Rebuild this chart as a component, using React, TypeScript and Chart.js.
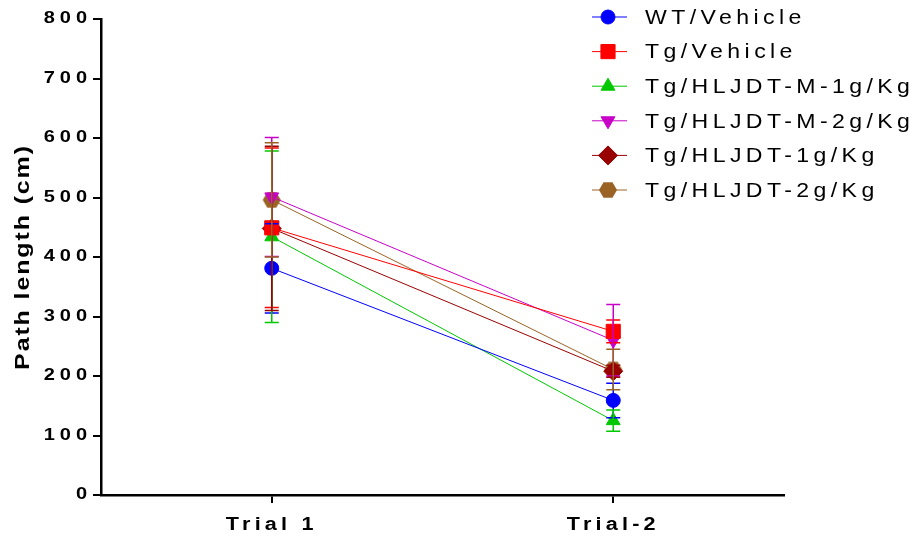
import React, { useEffect, useRef } from 'react';
import { Chart, registerables, LinearScale, CategoryScale } from 'chart.js';
import { drawPoint } from 'chart.js/helpers';

// ---------- data ----------
const CATEGORIES = ['Trial 1', 'Trial-2'];
const SERIES_LABELS = [
  'WT/Vehicle',
  'Tg/Vehicle',
  'Tg/HLJDT-M-1g/Kg',
  'Tg/HLJDT-M-2g/Kg',
  'Tg/HLJDT-1g/Kg',
  'Tg/HLJDT-2g/Kg',
];
const WT_VEHICLE = [381, 159];
const TG_VEHICLE = [449, 275];
const TG_M_1G = [434, 125];
const TG_M_2G = [501, 260];
const TG_1G = [448, 208];
const TG_2G = [496, 211];

const WT_VEHICLE_ERR = [75, 29];
const TG_VEHICLE_ERR = [134, 19];
const TG_M_1G_ERR = [144, 18];
const TG_M_2G_ERR = [100, 60];
const TG_1G_ERR = [138, 10];
const TG_2G_ERR = [96, 34];

const SERIES_VALUES = [WT_VEHICLE, TG_VEHICLE, TG_M_1G, TG_M_2G, TG_1G, TG_2G];
const SERIES_ERRORS = [WT_VEHICLE_ERR, TG_VEHICLE_ERR, TG_M_1G_ERR, TG_M_2G_ERR, TG_1G_ERR, TG_2G_ERR];

const Y_MIN = 0;
const Y_MAX = 800;
const Y_STEP = 100;
const Y_TITLE = 'Path length (cm)';

// ---------- styles ----------
const COLORS = ['#0000FF', '#FF0000', '#00C800', '#C800C8', '#990000', '#9A6324'];
const POINT_STYLES = ['circle', 'rect', 'triangle', 'triangle', 'rectRot', 'hexagon'];
const POINT_ROTATIONS = [0, 0, 0, 180, 0, 0];
const POINT_RADII = [7, 10, 8, 8, 9.5, 9];
const FONT = '"Liberation Sans", Arial, Helvetica, sans-serif';

// horizontal text stretch + letter spacing (the reference uses wide, spaced text)
const TEXT_LOOK: any = {
  y: { sx: 1.25, ls: 4, titleSx: 1.25, titleLs: 1.5 },
  x: { sx: 1.2, ls: 3.5 },
  legend: { sx: 1.1, ls: 4 },
};

function setSpacing(ctx: any, v: number) {
  try { ctx.letterSpacing = `${v}px`; } catch (e) { /* ignore */ }
}

function drawStretchedLabels(scale: any, area: any, look: any) {
  const ctx = scale.ctx;
  const items = scale.getLabelItems(area);
  for (const item of items) {
    const o = item.options;
    ctx.save();
    ctx.translate(o.translation[0], o.translation[1]);
    ctx.rotate(o.rotation || 0);
    ctx.scale(look.sx, 1);
    ctx.font = item.font.string;
    ctx.fillStyle = o.color;
    ctx.textAlign = o.textAlign;
    ctx.textBaseline = o.textBaseline;
    setSpacing(ctx, look.ls);
    ctx.fillText(String(item.label), 0, item.textOffset);
    ctx.restore();
  }
}

class SpacedLinearScale extends (LinearScale as any) {
  static id = 'spacedLinear';
  drawLabels(area: any) {
    drawStretchedLabels(this, area, TEXT_LOOK.y);
  }
  drawTitle() {
    const ctx = this.ctx;
    const cy = (this.top + this.bottom) / 2;
    ctx.save();
    ctx.translate(0, cy);
    ctx.scale(1, TEXT_LOOK.y.titleSx);
    ctx.translate(0, -cy);
    setSpacing(ctx, TEXT_LOOK.y.titleLs);
    super.drawTitle();
    ctx.restore();
  }
}

class SpacedCategoryScale extends (CategoryScale as any) {
  static id = 'spacedCategory';
  drawLabels(area: any) {
    drawStretchedLabels(this, area, TEXT_LOOK.x);
  }
}

Chart.register(...registerables, SpacedLinearScale as any, SpacedCategoryScale as any);

function makeHexagon(color: string, r: number) {
  const c = document.createElement('canvas');
  const w = Math.ceil(2 * r) + 2;
  const h = Math.ceil(Math.sqrt(3) * r) + 2;
  c.width = w;
  c.height = h;
  const g = c.getContext('2d')!;
  g.fillStyle = color;
  g.beginPath();
  for (let i = 0; i < 6; i++) {
    const a = (Math.PI / 3) * i;
    const px = w / 2 + r * Math.cos(a);
    const py = h / 2 + r * Math.sin(a);
    if (i === 0) g.moveTo(px, py);
    else g.lineTo(px, py);
  }
  g.closePath();
  g.fill();
  return c;
}

const errorBarsPlugin = {
  id: 'errorBars',
  afterDatasetsDraw(chart: any) {
    const ctx = chart.ctx;
    const yScale = chart.scales.y;
    ctx.save();
    chart.data.datasets.forEach((ds: any, i: number) => {
      const meta = chart.getDatasetMeta(i);
      const errs = SERIES_ERRORS[i];
      meta.data.forEach((pt: any, j: number) => {
        const v = ds.data[j];
        const e = errs[j];
        const yTop = yScale.getPixelForValue(v + e);
        const yBot = yScale.getPixelForValue(v - e);
        ctx.strokeStyle = COLORS[i];
        ctx.lineWidth = 1.5;
        ctx.beginPath();
        ctx.moveTo(pt.x, yTop);
        ctx.lineTo(pt.x, yBot);
        ctx.moveTo(pt.x - 7, yTop);
        ctx.lineTo(pt.x + 7, yTop);
        ctx.moveTo(pt.x - 7, yBot);
        ctx.lineTo(pt.x + 7, yBot);
        ctx.stroke();
      });
    });
    ctx.restore();
  },
};

const legendPlugin = {
  id: 'customLegend',
  afterDraw(chart: any) {
    const ctx = chart.ctx;
    const lineX0 = 592;
    const lineX1 = 627;
    const markX = 608;
    const textX = 645;
    const top = 17;
    const row = 34.6;
    ctx.save();
    chart.data.datasets.forEach((ds: any, i: number) => {
      const yy = top + i * row;
      ctx.strokeStyle = COLORS[i];
      ctx.fillStyle = COLORS[i];
      ctx.lineWidth = 1;
      ctx.beginPath();
      ctx.moveTo(lineX0, yy);
      ctx.lineTo(lineX1, yy);
      ctx.stroke();
      drawPoint(ctx, {
        pointStyle: ds.pointStyle,
        rotation: ds.pointRotation || 0,
        radius: ds.pointRadius,
        borderWidth: 1,
      } as any, markX, yy);
      ctx.save();
      ctx.translate(textX, yy + 1);
      ctx.scale(TEXT_LOOK.legend.sx, 1);
      ctx.fillStyle = '#000';
      ctx.font = `21px ${FONT}`;
      setSpacing(ctx, TEXT_LOOK.legend.ls);
      ctx.textBaseline = 'middle';
      ctx.textAlign = 'left';
      ctx.fillText(ds.label, 0, 0);
      ctx.restore();
    });
    ctx.restore();
  },
};

export default function App() {
  const canvasRef = useRef<HTMLCanvasElement | null>(null);

  useEffect(() => {
    const canvas = canvasRef.current;
    if (!canvas) return;
    const datasets = SERIES_LABELS.map((label, i) => {
      const style = POINT_STYLES[i] === 'hexagon' ? makeHexagon(COLORS[i], 9) : POINT_STYLES[i];
      return {
        label,
        data: SERIES_VALUES[i],
        borderColor: COLORS[i],
        backgroundColor: COLORS[i],
        borderWidth: 1,
        pointStyle: style,
        pointRotation: POINT_ROTATIONS[i],
        pointRadius: POINT_RADII[i],
        pointBackgroundColor: COLORS[i],
        pointBorderColor: COLORS[i],
        pointBorderWidth: 1,
        tension: 0,
        fill: false,
      };
    });

    const chart = new Chart(canvas, {
      type: 'line',
      data: { labels: CATEGORIES, datasets: datasets as any },
      options: {
        animation: false,
        responsive: false,
        devicePixelRatio: 1,
        layout: { padding: { top: 19, right: 131, bottom: 0, left: 0 } },
        plugins: {
          legend: { display: false },
          tooltip: { enabled: false },
        },
        scales: {
          x: {
            type: 'spacedCategory' as any,
            offset: true,
            grid: {
              offset: false,
              drawOnChartArea: false,
              drawTicks: true,
              tickLength: 8,
              color: '#000',
              lineWidth: 2,
            },
            border: { color: '#000', width: 2.5 },
            ticks: {
              color: '#000',
              padding: 11,
              font: { family: FONT, size: 18, weight: 'bold' },
            },
            afterFit: (scale: any) => { scale.height = 48; },
          },
          y: {
            type: 'spacedLinear' as any,
            min: Y_MIN,
            max: Y_MAX,
            grid: {
              drawOnChartArea: false,
              drawTicks: true,
              tickLength: 8,
              color: '#000',
              lineWidth: 2,
            },
            border: { color: '#000', width: 2.5 },
            ticks: {
              stepSize: Y_STEP,
              color: '#000',
              padding: 1,
              font: { family: FONT, size: 16, weight: 'bold' },
            },
            title: {
              display: true,
              text: Y_TITLE,
              color: '#000',
              padding: { top: 11, bottom: 0 },
              font: { family: FONT, size: 20, weight: 'bold' },
            },
            afterFit: (scale: any) => { scale.width = 101; },
          },
        } as any,
      },
      plugins: [errorBarsPlugin, legendPlugin],
    });

    return () => chart.destroy();
  }, []);

  return (
    <div style={{ position: 'fixed', left: 0, top: 0, width: 915, height: 543, background: '#fff' }}>
      <canvas ref={canvasRef} width={915} height={543} style={{ width: 915, height: 543, display: 'block' }} />
    </div>
  );
}
